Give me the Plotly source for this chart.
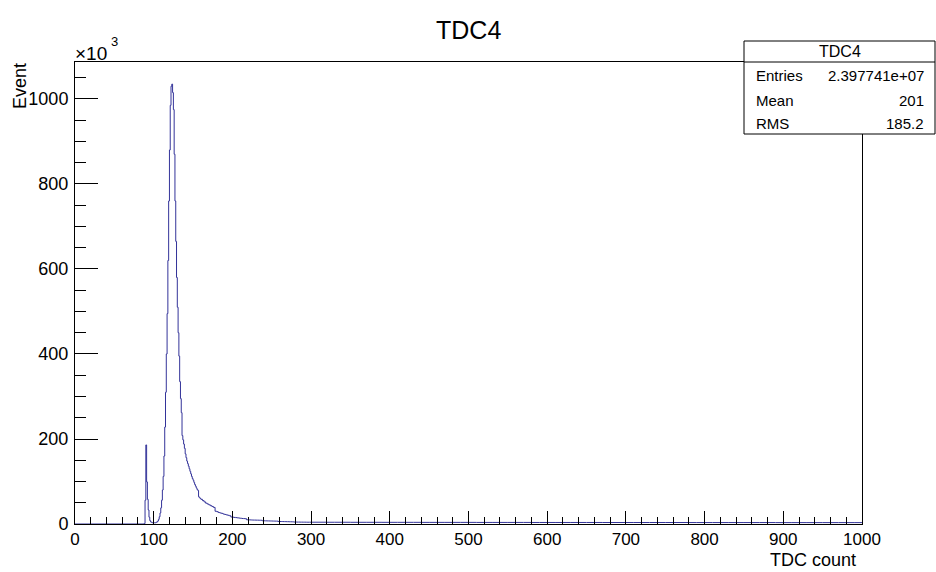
import numpy as np
import plotly.graph_objects as go

# ---------------- data (bin contents in units of 10^3 events) ----------------
title_text = "TDC4"
x_title = "TDC count"
y_title = "Event"
stats_labels = ["Entries", "Mean", "RMS"]
stats_values = ["2.397741e+07", "201", "185.2"]

# empty region before the peak
lead_start = 0
lead_width = 88
lead_values = [0.0]

# fine region, 1-count bins from 88 to 160
fine_start = 88
fine_width = 1
fine_values = [
    1, 56, 186, 99, 58, 33, 16, 8, 5, 4,            # 88-97
    3, 3, 3, 3, 3, 4, 5, 7, 11, 17,                  # 98-107
    26, 38, 56, 80, 112, 160, 228, 310, 400, 495,    # 108-117
    620, 760, 880, 985, 1030, 1035, 1015, 975, 870, 760,  # 118-127
    665, 580, 510, 450, 395, 335, 295, 262, 208, 198,     # 128-137
    188, 178, 165, 156, 148, 142, 136, 130, 124, 118,     # 138-147
    112, 107, 103, 98, 93, 89, 85, 81, 79, 64,            # 148-157
    62, 60,                                               # 158-159
]

# medium region, 2-count bins from 160 to 300
mid_start = 160
mid_width = 2
mid_values = [
    58, 55, 52, 49, 47, 45, 43, 41, 39, 30,          # 160-179
    29, 27, 26, 25, 23.5, 22.5, 21.5, 20.5, 19.5, 16.5,  # 180-199
    16, 15.5, 15, 14.5, 14, 13.5, 13, 12.7, 12.4, 10,    # 200-219
    9.8, 9.6, 9.4, 9.3, 9.2, 9.1, 9.0, 8.9, 8.8, 7.6,    # 220-239
    7.5, 7.4, 7.3, 7.2, 7.1, 7.0, 6.9, 6.8, 6.7, 6.0,    # 240-259
    5.9, 5.8, 5.7, 5.6, 5.5, 5.4, 5.3, 5.2, 5.1, 4.6,    # 260-279
    4.6, 4.5, 4.5, 4.4, 4.4, 4.3, 4.3, 4.2, 4.2, 4.2,    # 280-299
]

# tail region, 10-count bins from 300 to 1000
tail_start = 300
tail_width = 10
tail_values = [
    4.2, 4.2, 4.1, 4.1, 4.1, 4.0, 4.0, 4.0, 4.0, 3.9,
    3.9, 3.9, 3.9, 3.9, 3.8, 3.8, 3.8, 3.8, 3.8, 3.8,
    3.8, 3.7, 3.7, 3.7, 3.7, 3.7, 3.7, 3.7, 3.6, 3.6,
    3.6, 3.6, 3.6, 3.6, 3.6, 3.6, 3.6, 3.5, 3.5, 3.5,
    3.5, 3.5, 3.5, 3.5, 3.5, 3.5, 3.5, 3.5, 3.4, 3.4,
    3.4, 3.4, 3.4, 3.4, 3.4, 3.4, 3.4, 3.4, 3.4, 3.3,
    3.3, 3.3, 3.3, 3.3, 3.3, 3.3, 3.3, 3.3, 3.3, 3.3,
]

x_range = [0, 1000]
y_range = [0, 1087]
x_ticks = [0, 100, 200, 300, 400, 500, 600, 700, 800, 900, 1000]
y_ticks = [0, 200, 400, 600, 800, 1000]

# ---------------- build histogram steps ----------------
segments = [
    (lead_start, lead_width, lead_values),
    (fine_start, fine_width, fine_values),
    (mid_start, mid_width, mid_values),
    (tail_start, tail_width, tail_values),
]
edges = []
vals = []
for start, width, values in segments:
    n = len(values)
    lo = start + width * np.arange(n)
    edges.extend(lo.tolist())
    vals.extend(values)
edges.append(x_range[1])
vals.append(vals[-1])

FONT = "Liberation Sans, Arial, Helvetica, sans-serif"
LINE = "rgb(51,51,153)"

fig = go.Figure()
fig.add_trace(go.Scatter(
    x=edges, y=vals, mode="lines", line=dict(color=LINE, width=1, shape="hv"),
    hoverinfo="skip", showlegend=False,
))

# plot-area geometry (pixels) for placing texts
L, R, T, B = 75, 862, 62, 524
W, H = 936, 572


def fx(px):
    return (px - L) / (R - L)


def fy(py):
    return (B - py) / (B - T)


fig.update_layout(
    width=W, height=H,
    margin=dict(l=L, r=W - R, t=T, b=H - B, pad=0),
    paper_bgcolor="white", plot_bgcolor="white",
    font=dict(family=FONT, size=18, color="black"),
    showlegend=False,
    xaxis=dict(
        range=x_range, tickvals=x_ticks, ticks="inside", ticklen=13, tickwidth=1,
        tickcolor="black", showline=True, linecolor="black", linewidth=1, mirror=True,
        showgrid=False, zeroline=False, tickfont=dict(size=17, family=FONT),
        minor=dict(dtick=20, tick0=0, ticks="inside", ticklen=7, tickcolor="black", showgrid=False),
    ),
    yaxis=dict(
        range=y_range, tickvals=y_ticks, ticks="inside", ticklen=23, tickwidth=1,
        tickcolor="black", showline=True, linecolor="black", linewidth=1, mirror=True,
        showgrid=False, zeroline=False, tickfont=dict(size=18, family=FONT),
        ticklabelstandoff=2,
        minor=dict(dtick=50, tick0=0, ticks="inside", ticklen=11, tickcolor="black", showgrid=False),
    ),
)

ann = []
# main title
ann.append(dict(text=title_text, xref="paper", yref="paper", x=fx(468), y=fy(30),
                xanchor="center", yanchor="middle", showarrow=False,
                font=dict(size=25, family=FONT, color="black")))
# exponent
ann.append(dict(text="\u00d710", xref="paper", yref="paper", x=fx(73), y=fy(53),
                xanchor="left", yanchor="middle", showarrow=False,
                font=dict(size=19, family=FONT, color="black")))
ann.append(dict(text="3", xref="paper", yref="paper", x=fx(109), y=fy(41),
                xanchor="left", yanchor="middle", showarrow=False,
                font=dict(size=13, family=FONT, color="black")))
# axis titles
ann.append(dict(text=y_title, xref="paper", yref="paper", x=fx(20), y=fy(86),
                xanchor="center", yanchor="middle", textangle=-90, showarrow=False,
                font=dict(size=18, family=FONT, color="black")))
ann.append(dict(text=x_title, xref="paper", yref="paper", x=fx(858), y=fy(560),
                xanchor="right", yanchor="middle", showarrow=False,
                font=dict(size=18, family=FONT, color="black")))

# stats box
bx0, bx1, by0, by1, sep = 744, 935, 134, 41, 62
shapes = [
    dict(type="rect", xref="paper", yref="paper", x0=fx(bx0), x1=fx(bx1), y0=fy(by0), y1=fy(by1),
         fillcolor="white", line=dict(color="black", width=1), layer="above"),
    dict(type="line", xref="paper", yref="paper", x0=fx(bx0), x1=fx(bx1), y0=fy(sep), y1=fy(sep),
         line=dict(color="black", width=1), layer="above"),
]
ann.append(dict(text=title_text, xref="paper", yref="paper", x=fx((bx0 + bx1) / 2), y=fy(52),
                xanchor="center", yanchor="middle", showarrow=False,
                font=dict(size=16, family=FONT, color="black")))
row_y = [76, 100, 123]
for lab, val, ry in zip(stats_labels, stats_values, row_y):
    ann.append(dict(text=lab, xref="paper", yref="paper", x=fx(754), y=fy(ry),
                    xanchor="left", yanchor="middle", showarrow=False,
                    font=dict(size=15, family=FONT, color="black")))
    ann.append(dict(text=val, xref="paper", yref="paper", x=fx(926), y=fy(ry),
                    xanchor="right", yanchor="middle", showarrow=False,
                    font=dict(size=15, family=FONT, color="black")))

fig.update_layout(annotations=ann, shapes=shapes)
fig.write_html("out.html")
